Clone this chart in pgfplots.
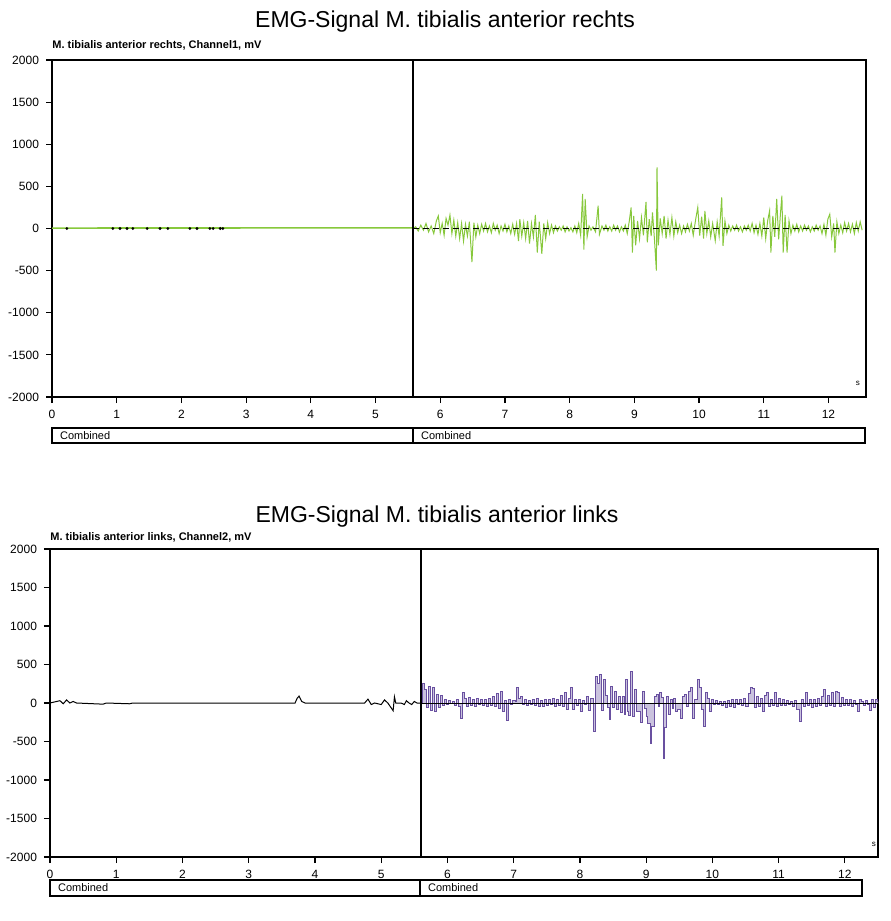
\documentclass[border=0pt]{standalone}
\usepackage{fontspec}
\setmainfont{Liberation Sans}
\usepackage{pgfplots}
\pgfplotsset{compat=1.18}
\definecolor{emggreen}{RGB}{135,200,60}
\definecolor{emgpurple}{RGB}{105,80,160}

\pgfplotsset{emgaxis/.style={
  scale only axis, anchor=north west,
  xmin=0, ymin=-2000, ymax=2000,
  xtick={0,...,12}, ytick={-2000,-1500,...,2000},
  tick align=outside, tick pos=left, major tick length=3pt,
  axis line style={line width=0.9pt},
  every tick/.style={black, line width=0.6pt},
  ticklabel style={font=\fontsize{6}{7}\selectfont},
  /pgf/number format/assume math mode=true,
  /pgf/number format/1000 sep={},
  scaled y ticks=false,
}}

\begin{document}
\begin{tikzpicture}
\path[use as bounding box] (0,0) rectangle (445pt,-460.5pt);

% ---------- top: rechts ----------
\node[font=\fontsize{11.5}{13}\selectfont] at (222.5pt,-11pt) {EMG-Signal M. tibialis anterior rechts};
\node[anchor=west, inner sep=0pt, font=\fontsize{5.5}{6}\selectfont\bfseries] at (26pt,-22.5pt) {M. tibialis anterior rechts, Channel1, mV};
\begin{axis}[emgaxis, at={(26pt,-30pt)}, width=407pt, height=168.5pt, xmax=12.58]
\addplot[emggreen, line width=0.8pt] coordinates {(0,5) (5.58,8)};
\addplot[emggreen, line width=0.5pt] coordinates {
(5.58,0) (5.62,20) (5.66,-30) (5.70,40) (5.74,-20) (5.78,60) (5.82,-40) (5.86,30) (5.90,-60) (5.94,90)
(5.97,150) (6.00,-50) (6.03,60) (6.06,-80) (6.09,120) (6.12,40) (6.15,160) (6.18,-60) (6.21,100) (6.24,-90)
(6.27,70) (6.30,-120) (6.33,60) (6.36,-150) (6.39,50) (6.42,-90) (6.45,80) (6.49,-400) (6.52,70) (6.55,-100)
(6.58,40) (6.61,-60) (6.64,50) (6.67,-30) (6.70,60) (6.73,-40) (6.76,30) (6.79,-50) (6.82,60) (6.85,-20)
(6.88,40) (6.91,-60) (6.94,30) (6.97,-30) (7.00,50) (7.03,-40) (7.06,30) (7.09,-60) (7.12,50) (7.15,-70)
(7.18,60) (7.21,-150) (7.23,110) (7.26,-90) (7.29,70) (7.32,-120) (7.35,90) (7.38,-180) (7.41,60) (7.44,-100)
(7.47,160) (7.50,-285) (7.53,80) (7.57,-300) (7.60,60) (7.63,-120) (7.66,70) (7.69,-60) (7.72,40) (7.75,-50)
(7.78,30) (7.81,-30) (7.84,20) (7.87,-20) (7.90,30) (7.93,-40) (7.96,20) (7.99,-30) (8.02,10) (8.05,-40)
(8.08,30) (8.11,-50) (8.14,60) (8.17,-80) (8.20,410) (8.22,-250) (8.24,350) (8.27,-100) (8.30,30) (8.33,-20)
(8.36,20) (8.40,-40) (8.44,270) (8.46,-70) (8.50,30) (8.53,-20) (8.56,40) (8.59,-30) (8.62,20) (8.65,-30)
(8.68,40) (8.71,-20) (8.74,30) (8.77,-40) (8.80,20) (8.83,-30) (8.86,40) (8.89,-60) (8.92,80) (8.95,250)
(8.97,-285) (8.99,150) (9.02,-200) (9.05,90) (9.08,-120) (9.11,130) (9.14,-80) (9.18,315) (9.20,-165) (9.23,110)
(9.26,-90) (9.28,190) (9.31,-120) (9.34,-500) (9.35,725) (9.37,-200) (9.40,120) (9.43,-60) (9.46,150) (9.49,-120)
(9.52,100) (9.55,-70) (9.58,130) (9.61,-90) (9.64,80) (9.67,-50) (9.70,40) (9.73,-60) (9.76,30) (9.79,-40)
(9.82,50) (9.85,-30) (9.88,60) (9.91,-80) (9.95,120) (9.98,250) (10.01,-85) (10.04,140) (10.07,-120) (10.09,210)
(10.12,-60) (10.15,90) (10.18,-100) (10.21,60) (10.25,-145) (10.28,80) (10.31,-90) (10.35,370) (10.37,-205) (10.40,90)
(10.43,-60) (10.46,40) (10.49,-30) (10.52,30) (10.55,-20) (10.58,40) (10.61,-30) (10.64,20) (10.67,-40) (10.70,30)
(10.73,-20) (10.76,40) (10.79,-30) (10.82,60) (10.85,-50) (10.88,40) (10.91,-70) (10.94,60) (10.97,-90) (11.00,130)
(11.03,-120) (11.06,90) (11.09,210) (11.11,-285) (11.14,150) (11.17,-100) (11.20,350) (11.23,-130) (11.26,200) (11.28,390)
(11.30,-285) (11.33,160) (11.36,-285) (11.39,90) (11.42,-60) (11.45,40) (11.48,-30) (11.51,50) (11.54,-40) (11.57,30)
(11.60,-30) (11.63,40) (11.66,-20) (11.69,30) (11.72,-40) (11.75,20) (11.78,-30) (11.81,40) (11.84,-20) (11.87,30)
(11.90,-60) (11.93,50) (11.96,-80) (11.99,110) (12.02,170) (12.05,-100) (12.08,60) (12.10,-285) (12.13,80) (12.16,-60)
(12.19,40) (12.22,-50) (12.25,70) (12.28,-30) (12.31,60) (12.34,-40) (12.37,50) (12.40,-60) (12.43,70) (12.46,-30)
(12.49,80) (12.52,-20)};
\addplot[black, densely dashed, line width=0.6pt] coordinates {(5.58,0) (12.52,0)};
\addplot[only marks, mark=*, mark size=0.5pt, black] coordinates {
(0.23,0) (0.94,0) (1.05,0) (1.16,0) (1.25,0) (1.47,0) (1.67,0) (1.79,0) (2.13,0) (2.24,0) (2.44,0) (2.49,0) (2.60,0) (2.64,0)};
\addplot[black, line width=0.8pt] coordinates {(5.58,-2000) (5.58,2000)};
\node[font=\fontsize{4}{4}\selectfont] at (rel axis cs:0.99,0.04) {s};
\end{axis}
\draw[line width=0.6pt] (26pt,-214pt) rectangle (432.5pt,-221.5pt);
\draw[line width=0.6pt] (206.5pt,-214pt) -- (206.5pt,-221.5pt);
\node[anchor=west, font=\fontsize{5.5}{6}\selectfont] at (26.5pt,-217.75pt) {Combined};
\node[anchor=west, font=\fontsize{5.5}{6}\selectfont] at (207pt,-217.75pt) {Combined};

% ---------- bottom: links ----------
\node[font=\fontsize{11.5}{13}\selectfont] at (218.5pt,-258.5pt) {EMG-Signal M. tibialis anterior links};
\node[anchor=west, inner sep=0pt, font=\fontsize{5.5}{6}\selectfont\bfseries] at (25pt,-268.5pt) {M. tibialis anterior links, Channel2, mV};
\begin{axis}[emgaxis, at={(25pt,-274.5pt)}, width=414pt, height=154pt, xmax=12.5]
\addplot[black, line width=0.5pt] coordinates {
(0,0) (0.15,30) (0.2,-10) (0.25,40) (0.3,0) (0.35,20) (0.4,0) (0.8,-15) (0.85,0) (1.2,-10) (1.25,0)
(3.7,0) (3.73,60) (3.76,90) (3.8,20) (3.85,0) (4.75,0) (4.8,50) (4.85,-20) (4.9,0) (5.0,-20) (5.05,40)
(5.1,0) (5.18,-100) (5.2,80) (5.22,0) (5.30,0) (5.35,-20) (5.38,30) (5.42,0) (5.46,-20) (5.50,20) (5.54,0) (5.60,0)};
\addplot[emgpurple, fill=emgpurple!35, line width=0.5pt, const plot] coordinates {
(5.62,250) (5.65,180)
(5.68,-60) (5.71,220) (5.74,-100) (5.77,200) (5.80,-110) (5.83,110) (5.86,-60) (5.89,100) (5.92,-30) (5.95,40)
(5.98,-20) (6.01,30) (6.04,-10) (6.07,20) (6.10,-30) (6.14,40) (6.17,-50) (6.20,-195) (6.23,130) (6.26,60)
(6.29,-40) (6.32,70) (6.35,-30) (6.38,50) (6.41,-40) (6.44,60) (6.47,-20) (6.50,50) (6.53,-30) (6.56,40)
(6.59,-50) (6.62,60) (6.65,-30) (6.68,80) (6.71,-50) (6.74,120) (6.77,-70) (6.80,150) (6.83,-110) (6.86,30)
(6.89,-230) (6.92,40) (6.95,-20) (6.98,30) (7.02,20) (7.05,195) (7.08,60) (7.11,80) (7.14,-20) (7.17,40)
(7.20,-30) (7.23,30) (7.26,-20) (7.29,40) (7.32,-30) (7.35,60) (7.38,-40) (7.41,30) (7.44,-50) (7.47,50)
(7.50,-30) (7.53,40) (7.56,-20) (7.59,60) (7.62,-40) (7.65,40) (7.68,-30) (7.71,100) (7.74,-40) (7.77,130)
(7.80,-80) (7.83,60) (7.86,195) (7.89,-90) (7.92,40) (7.95,-30) (7.98,50) (8.01,-110) (8.04,30) (8.07,-20)
(8.10,80) (8.13,-100) (8.16,60) (8.21,-375) (8.24,345) (8.27,250) (8.29,370) (8.32,-100) (8.35,300) (8.38,100)
(8.41,-60) (8.44,-215) (8.46,215) (8.49,-60) (8.52,150) (8.55,-90) (8.58,90) (8.61,-120) (8.64,80) (8.67,-150)
(8.69,300) (8.72,-110) (8.74,-160) (8.76,410) (8.79,-175) (8.82,170) (8.85,-110) (8.88,-110) (8.91,-250) (8.94,150)
(8.97,-70) (9.00,-170) (9.02,-260) (9.06,-520) (9.08,-300) (9.10,-300) (9.12,80) (9.15,110) (9.18,-50) (9.20,130)
(9.23,70) (9.26,-715) (9.28,-315) (9.30,80) (9.33,-150) (9.36,40) (9.39,-70) (9.42,60) (9.45,-110) (9.48,-80)
(9.52,-195) (9.55,80) (9.58,115) (9.61,-40) (9.64,150) (9.67,200) (9.70,-195) (9.73,40) (9.78,300) (9.81,200)
(9.84,-80) (9.87,-300) (9.90,130) (9.93,60) (9.96,-110) (9.99,40) (10.02,-20) (10.05,30) (10.08,-20) (10.11,20)
(10.14,-30) (10.17,20) (10.20,-60) (10.23,30) (10.26,-40) (10.29,50) (10.32,-60) (10.35,40) (10.38,-20) (10.41,50)
(10.44,-30) (10.47,60) (10.50,-40) (10.54,120) (10.57,195) (10.60,190) (10.63,-60) (10.66,80) (10.69,-40) (10.72,60)
(10.76,-110) (10.79,100) (10.82,130) (10.85,-50) (10.88,40) (10.91,-30) (10.94,130) (10.97,-40) (11.00,60) (11.03,-30)
(11.06,40) (11.09,-30) (11.12,30) (11.15,-20) (11.18,20) (11.21,-40) (11.24,30) (11.27,-80) (11.32,-240) (11.35,40)
(11.38,-50) (11.41,130) (11.44,-30) (11.47,50) (11.50,-60) (11.53,40) (11.56,-40) (11.59,60) (11.62,-30) (11.65,80)
(11.68,170) (11.71,-40) (11.74,100) (11.77,-30) (11.80,130) (11.83,-40) (11.86,150) (11.89,140) (11.92,-50) (11.95,70)
(11.98,-30) (12.01,40) (12.04,-30) (12.07,40) (12.10,-50) (12.13,30) (12.16,-20) (12.19,-110) (12.22,40) (12.25,20)
(12.28,-30) (12.31,30) (12.34,-20) (12.37,-100) (12.40,40) (12.43,-60) (12.46,50) (12.49,20) (12.50,0)} \closedcycle;
\addplot[black, line width=0.4pt] coordinates {(5.6,0) (12.5,0)};
\addplot[black, line width=0.8pt] coordinates {(5.6,-2000) (5.6,2000)};
\node[font=\fontsize{4}{4}\selectfont] at (rel axis cs:0.995,0.04) {s};
\end{axis}
\draw[line width=0.6pt] (25pt,-440pt) rectangle (431pt,-448pt);
\draw[line width=0.6pt] (210pt,-440pt) -- (210pt,-448pt);
\node[anchor=west, font=\fontsize{5.5}{6}\selectfont] at (25.5pt,-444pt) {Combined};
\node[anchor=west, font=\fontsize{5.5}{6}\selectfont] at (210.5pt,-444pt) {Combined};
\end{tikzpicture}
\end{document}
